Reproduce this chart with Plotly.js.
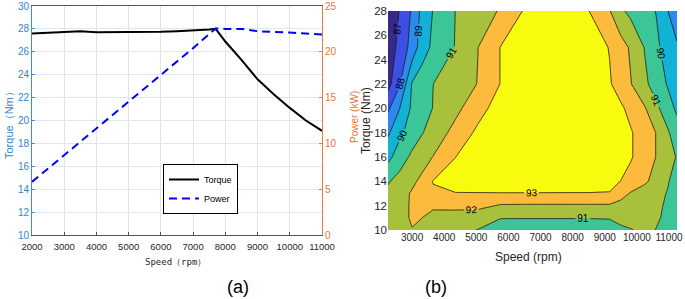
<!DOCTYPE html>
<html><head><meta charset="utf-8">
<script src="https://cdn.plot.ly/plotly-3.0.1.min.js"></script>
<style>body{margin:0;background:#fff}#chart{width:685px;height:299px}</style>
</head><body><div id="chart"></div>
<script>
// ---- (a) torque / power curves ----
const speed  = [2000, 2500, 3000, 3500, 4000, 4500, 5000, 5500, 6000, 6500, 7000, 7500, 7700, 8000, 8500, 9000, 9500, 10000, 10500, 11000];
const torque = [27.6, 27.65, 27.7, 27.8, 27.7, 27.7, 27.7, 27.7, 27.75, 27.8, 27.85, 27.95, 28.0, 26.9, 25.3, 23.6, 22.3, 21.1, 20.0, 19.1];
const power  = [5.8, 7.25, 8.7, 10.2, 11.6, 13.05, 14.5, 15.95, 17.4, 18.9, 20.4, 21.95, 22.55, 22.5, 22.5, 22.25, 22.2, 22.1, 22.0, 21.9];

// ---- (b) efficiency map ----
const mapSpeed  = [2250, 2600, 3000, 3300, 3650, 4350, 5050, 5750, 6450, 8500, 9150, 9500, 9800, 10250, 10600, 10950, 11250];
const mapTorque = [10, 11, 12, 13, 14, 16, 18, 20, 22, 25, 28];
const eff10 = [91.3, 91.6, 91.97, 91.6, 91.4, 91.2, 90.98, 90.6, 90.55, 90.55, 90.6, 90.8, 90.95, 91.2, 90.98, 90.7, 90.5];
const eff11 = [91.35, 91.7, 92.1, 92.02, 91.26, 91.3, 91.35, 91.03, 91.03, 91.03, 91.05, 91.3, 91.35, 91.3, 91.1, 90.85, 90.6];
const eff12 = [91.3, 91.7, 92.1, 92.3, 92.4, 92.4, 92.3, 91.9, 91.88, 91.88, 91.88, 91.7, 91.6, 91.4, 91.15, 90.9, 90.7];
const eff13 = [91.21, 91.61, 92.1, 92.5, 92.9, 92.97, 92.96, 92.96, 92.96, 92.96, 92.95, 92.35, 91.93, 91.55, 91.25, 90.96, 90.7];
const eff14 = [90.91, 91.33, 91.81, 92.2, 93.03, 93.3, 93.5, 93.6, 93.6, 93.5, 93.3, 92.98, 92.65, 92.15, 91.66, 91.09, 90.6];
const eff16 = [89.72, 90.48, 91.2, 91.58, 92.02, 92.99, 93.5, 93.8, 93.9, 93.9, 93.7, 93.45, 93.1, 92.48, 91.98, 91.42, 90.93];
const eff18 = [88.85, 89.75, 90.47, 90.93, 91.4, 92.32, 93.2, 93.6, 93.8, 93.8, 93.6, 93.35, 93.1, 92.48, 91.98, 91.15, 90.44];
const eff20 = [87.83, 88.95, 90.18, 90.57, 91.02, 91.74, 92.63, 93.45, 93.7, 93.7, 93.35, 93.16, 92.72, 92.07, 91.22, 90.45, 89.82];
const eff22 = [86.67, 87.85, 90.09, 90.51, 90.99, 91.5, 92.03, 93.02, 93.6, 93.6, 93.09, 92.54, 92.06, 91.19, 90.56, 89.94, 89.34];
const eff25 = [86.45, 87.25, 88.38, 89.51, 90.2, 91.04, 91.99, 93.02, 93.5, 93.5, 92.96, 92.4, 91.89, 90.94, 90.2, 89.61, 89.15];
const eff28 = [86.1, 87.02, 88.14, 89.25, 90.03, 91.01, 91.53, 92.08, 93.02, 93.02, 92.06, 91.16, 90.77, 90.33, 89.97, 89.05, 88.26];
const efficiency = [eff10, eff11, eff12, eff13, eff14, eff16, eff18, eff20, eff22, eff25, eff28];

const W = 685, H = 299;
const px = v => v / W, py = v => 1 - v / H;
const FONT = 'Liberation Sans, Arial, sans-serif';
const DARK = '#262626';
const parula = ['#352A87', '#3D4FE5', '#2C89EE', '#12B1D6', '#3CC596', '#A7C13C', '#FCBB3D', '#F9FB0E'];

const traces = [
  {x: speed, y: torque, type: 'scatter', mode: 'lines', name: 'Torque',
   line: {color: '#000000', width: 2}, xaxis: 'x', yaxis: 'y'},
  {x: speed, y: power, type: 'scatter', mode: 'lines', name: 'Power',
   line: {color: '#0000FF', width: 2, dash: '8px,5px'}, xaxis: 'x', yaxis: 'y2'},
  {x: mapSpeed, y: mapTorque, z: efficiency, type: 'contour', xaxis: 'x3', yaxis: 'y3',
   showscale: false, showlegend: false,
   colorscale: parula.map((c, i) => [i / (parula.length - 1), c]),
   contours: {start: 87, end: 93, size: 1, coloring: 'fill', showlabels: true,
              labelfont: {family: FONT, size: 10, color: '#000'}},
   line: {color: '#1a1a1a', width: 0.8, smoothing: 0},
   hoverinfo: 'skip'}
];

const ann = (text, x, y, font, angle) => ({text, x: px(x), y: py(y), xref: 'paper', yref: 'paper',
  xanchor: 'center', yanchor: 'middle', showarrow: false, textangle: angle || 0, font});

const layout = {
  width: W, height: H, margin: {l: 0, r: 0, t: 0, b: 0},
  paper_bgcolor: '#fff', plot_bgcolor: '#fff',
  font: {family: FONT, color: DARK},
  showlegend: true,
  legend: {x: px(163), y: py(164), xanchor: 'left', yanchor: 'top',
           bgcolor: '#fff', bordercolor: '#000', borderwidth: 1,
           font: {family: FONT, size: 9, color: '#000'}, itemwidth: 30,
           tracegroupgap: 0},
  xaxis: {domain: [px(32), px(322)], anchor: 'y', range: [2000, 11000], dtick: 1000, tick0: 2000,
          tickformat: 'd',
          showgrid: true, gridcolor: '#e3e3e3', zeroline: false,
          showline: true, linecolor: '#555', linewidth: 1, mirror: true,
          ticks: 'inside', ticklen: 3, tickcolor: '#555', ticklabelstandoff: 3,
          tickfont: {family: FONT, size: 9.5, color: DARK}},
  yaxis: {domain: [py(235), py(6)], anchor: 'x', range: [10, 30], dtick: 2,
          showgrid: true, gridcolor: '#dfe8f0', zeroline: false,
          showline: true, linecolor: '#3a8fd0', linewidth: 1,
          ticks: 'inside', ticklen: 3, tickcolor: '#3a8fd0',
          tickfont: {family: FONT, size: 10, color: '#2f86c8'}},
  yaxis2: {overlaying: 'y', side: 'right', anchor: 'x', range: [0, 25], dtick: 5,
           showgrid: false, zeroline: false, showline: true, linecolor: '#ee7a45', linewidth: 1,
           ticks: 'inside', ticklen: 3, tickcolor: '#ee7a45',
           tickfont: {family: FONT, size: 10, color: '#e8743b'}},
  xaxis3: {domain: [px(388), px(677)], anchor: 'y3', range: [2250, 11250],
           tickvals: [3000, 4000, 5000, 6000, 7000, 8000, 9000, 10000, 11000], tickformat: 'd',
           showgrid: false, zeroline: false, showline: false, ticks: '',
           tickfont: {family: FONT, size: 10, color: DARK}},
  yaxis3: {domain: [py(230), py(11)], anchor: 'x3', range: [10, 28], dtick: 2,
           showgrid: false, zeroline: false, showline: false, ticks: '',
           tickfont: {family: FONT, size: 11.5, color: DARK}},
  annotations: [
    ann('Torque（Nm）', 9, 123, {family: FONT, size: 11, color: '#2f86c8'}, -90),
    ann('Power (kW)', 355, 117, {family: FONT, size: 10, color: '#e8743b'}, -90),
    ann('Speed（rpm）', 175, 262, {family: 'DejaVu Sans Mono, monospace', size: 9, color: DARK}),
    ann('Torque (Nm)', 366, 120, {family: FONT, size: 12, color: DARK}, -90),
    ann('Speed (rpm)', 528, 257, {family: FONT, size: 12, color: DARK}),
    ann('(a)', 238, 287, {family: FONT, size: 18, color: '#000'}),
    ann('(b)', 436, 287, {family: FONT, size: 18, color: '#000'})
  ]
};

Plotly.newPlot('chart', traces, layout, {staticPlot: true, displayModeBar: false});
</script>
</body></html>
